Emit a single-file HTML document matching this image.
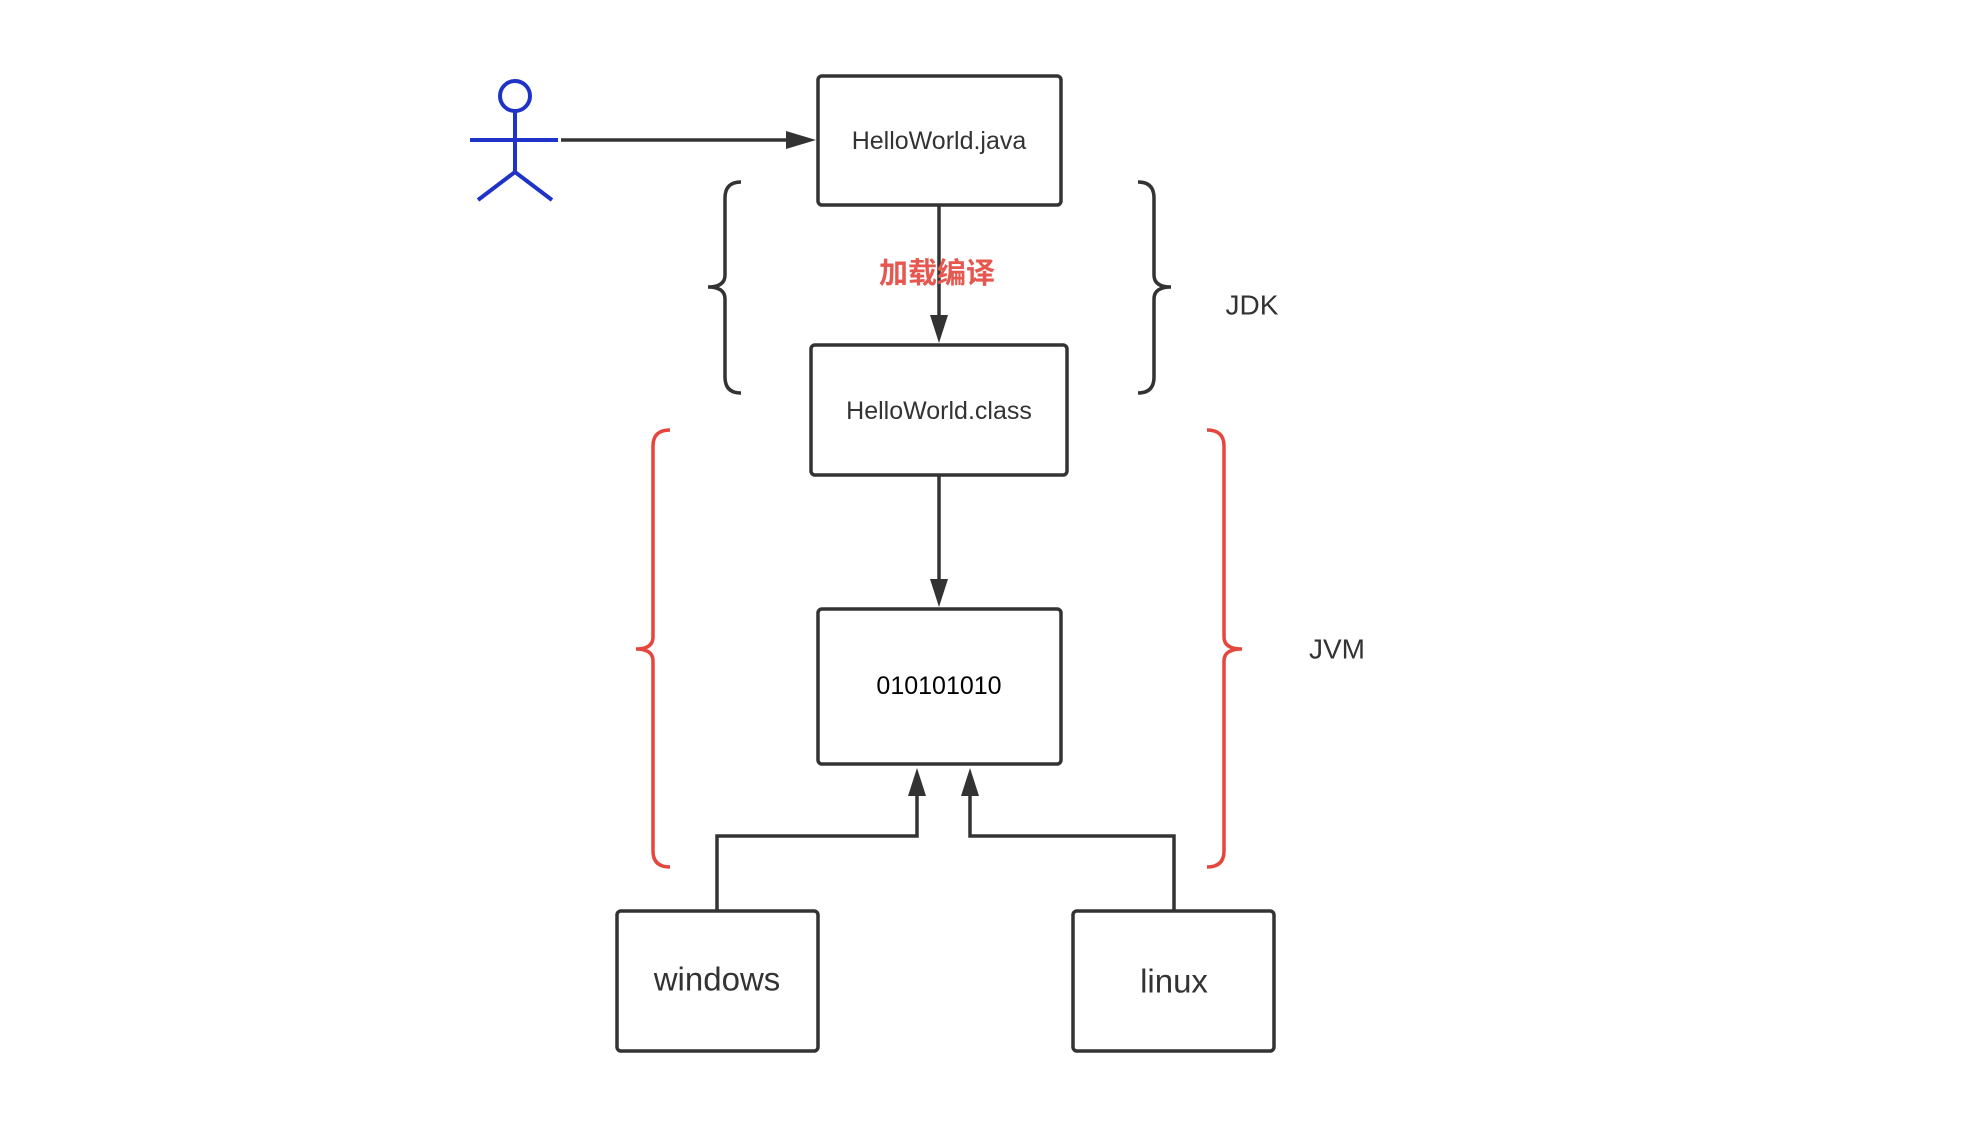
<!DOCTYPE html>
<html><head><meta charset="utf-8"><style>
html,body{margin:0;padding:0;background:#fff;}
svg{display:block}
text{font-family:"Liberation Sans","Noto Sans CJK SC",sans-serif;fill:#333;}
</style></head><body>
<svg width="1970" height="1144" viewBox="0 0 1970 1144" xmlns="http://www.w3.org/2000/svg">
<g transform="translate(-4,-1)">
<g fill="none" stroke="#333" stroke-width="3.5">
<rect x="822" y="77" width="243" height="129" rx="4"/>
<rect x="815" y="346" width="256" height="130" rx="4"/>
<rect x="822" y="610" width="243" height="155" rx="4"/>
<rect x="621" y="912" width="201" height="140" rx="4"/>
<rect x="1077" y="912" width="201" height="140" rx="4"/>
</g>
<g stroke="#333" stroke-width="3.5" fill="none">
<line x1="565" y1="141" x2="795" y2="141"/>
<line x1="943" y1="206" x2="943" y2="320"/>
<line x1="943" y1="476" x2="943" y2="584"/>
<polyline points="721,912 721,837 921,837 921,795"/>
<polyline points="1178,912 1178,837 974,837 974,795"/>
</g>
<g fill="#333">
<path d="M790,132 L820,141 L790,150 z"/>
<path d="M934,316 L943,344 L952,316 z"/>
<path d="M934,580 L943,608 L952,580 z"/>
<path d="M912,797 L921,769 L930,797 z"/>
<path d="M965,797 L974,769 L983,797 z"/>
</g>
<g stroke="#1f33c9" stroke-width="4" fill="none">
<circle cx="519" cy="97" r="15"/>
<line x1="519" y1="112" x2="519" y2="173"/>
<line x1="474" y1="141" x2="562" y2="141"/>
<polyline points="482,201 519,173 556,201"/>
</g>
<g stroke="#333" stroke-width="3.5" fill="none">
<path d="M745,183 Q729,183 729,199 L729,276 Q729,288 712,288 Q729,288 729,300 L729,378 Q729,394 745,394"/>
<path d="M1142,183 Q1158,183 1158,199 L1158,276 Q1158,288 1175,288 Q1158,288 1158,300 L1158,378 Q1158,394 1142,394"/>
</g>
<g stroke="#e5473f" stroke-width="3.5" fill="none">
<path d="M674,431 Q657,431 657,447 L657,638 Q657,650 640,650 Q657,650 657,662 L657,852 Q657,868 674,868"/>
<path d="M1211,431 Q1228,431 1228,447 L1228,638 Q1228,650 1246,650 Q1228,650 1228,662 L1228,852 Q1228,868 1211,868"/>
</g>
<g text-anchor="middle" dominant-baseline="central">
<text x="943" y="142" font-size="25">HelloWorld.java</text>
<text x="943" y="412" font-size="25">HelloWorld.class</text>
<text x="943" y="687" font-size="25" style="fill:#000">010101010</text>
<text x="721" y="980" font-size="33">windows</text>
<text x="1178" y="982" font-size="33">linux</text>
<text x="941" y="275" font-size="29" font-weight="bold" style="fill:#e5574f">加载编译</text>
<text x="1256" y="306" font-size="28">JDK</text>
<text x="1341" y="650" font-size="28">JVM</text>
</g>
</g>
</svg>
</body></html>
